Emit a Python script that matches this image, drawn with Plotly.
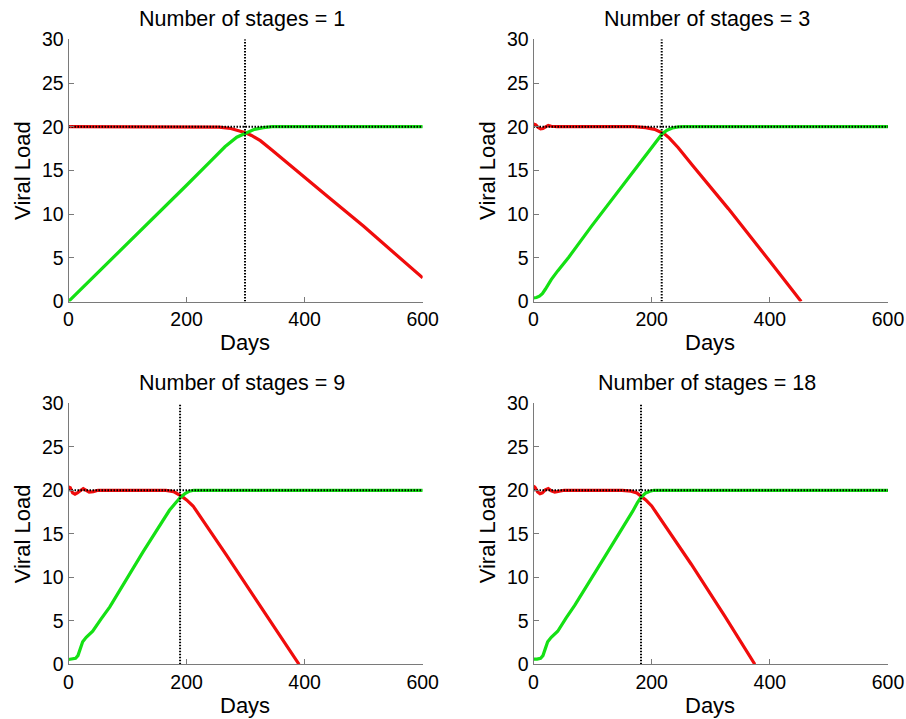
import plotly.graph_objects as go

W, H = 906, 719

# ---------------- data ----------------
titles = ["Number of stages = 1", "Number of stages = 3",
          "Number of stages = 9", "Number of stages = 18"]
cross_days = [299, 217, 189, 182]
plateau = 20
x_ticks = [0, 200, 400, 600]
y_ticks = [0, 5, 10, 15, 20, 25, 30]

green1_x = [0, 50, 100, 150, 200, 240, 265, 285, 300, 315, 330, 345, 360, 600]
green1_y = [0, 3.3, 6.6, 10.0, 13.3, 16.0, 17.7, 18.8, 19.3, 19.7, 19.9, 20.0, 20.0, 20.0]
red1_x = [0, 230, 255, 275, 290, 300, 310, 325, 345, 380, 440, 500, 560, 600]
red1_y = [20, 20, 19.95, 19.8, 19.55, 19.3, 19.0, 18.4, 17.3, 15.3, 11.95, 8.6, 5.1, 2.7]

green2_x = [0, 5, 10, 15, 20, 25, 30, 41, 60, 98, 154, 199, 210, 218, 226, 235, 245, 255, 600]
green2_y = [0.4, 0.45, 0.6, 0.9, 1.4, 2.0, 2.5, 3.5, 5.1, 8.6, 13.6, 17.6, 18.5, 19.2, 19.6, 19.85, 19.97, 20, 20]
red2_x = [0, 4, 8, 12, 16, 20, 25, 30, 40, 170, 190, 205, 215, 222, 230, 245, 270, 330, 400, 453]
red2_y = [20.3, 20.2, 19.9, 19.75, 19.8, 20.0, 20.15, 20.05, 20.0, 20.0, 19.9, 19.7, 19.4, 19.15, 18.7, 17.6, 15.5, 10.6, 4.6, 0]

green3_x = [0, 6, 12, 16, 20, 24, 30, 41, 55, 70, 126, 171, 182, 190, 198, 205, 212, 600]
green3_y = [0.55, 0.6, 0.7, 1.0, 1.8, 2.6, 3.1, 3.8, 5.2, 6.6, 12.9, 17.7, 18.6, 19.2, 19.65, 19.9, 20, 20]
red3_x = [0, 3, 7, 11, 15, 20, 25, 30, 35, 42, 50, 60, 165, 178, 186, 192, 200, 211, 267, 324, 390.5]
red3_y = [20.4, 20.3, 19.7, 19.55, 19.7, 20.0, 20.2, 20.0, 19.8, 19.85, 20.0, 20.0, 20.0, 19.85, 19.55, 19.3, 18.9, 18.2, 12.6, 6.8, 0]

green4_x = [0, 6, 12, 16, 20, 24, 30, 41, 55, 70, 120, 154, 168, 176, 182, 190, 197, 204, 600]
green4_y = [0.6, 0.6, 0.7, 1.0, 1.8, 2.6, 3.1, 3.8, 5.3, 6.8, 12.3, 16.0, 17.6, 18.6, 19.2, 19.7, 19.9, 20, 20]
red4_x = [0, 3, 7, 11, 15, 20, 25, 30, 36, 44, 52, 150, 165, 175, 182, 190, 200, 267, 324, 374.6]
red4_y = [20.5, 20.3, 19.8, 19.6, 19.7, 20.05, 20.2, 19.95, 19.8, 19.9, 20.0, 20.0, 19.9, 19.7, 19.3, 18.9, 18.2, 11.5, 5.5, 0]

greens = [(green1_x, green1_y), (green2_x, green2_y), (green3_x, green3_y), (green4_x, green4_y)]
reds = [(red1_x, red1_y), (red2_x, red2_y), (red3_x, red3_y), (red4_x, red4_y)]

# ---------------- layout geometry (pixels) ----------------
col_x = [(68.5, 422.7), (533.5, 888.0)]
row_y = [(39.3, 301.5), (403.3, 664.3)]

RED = "#f00c0c"
GREEN = "#14e014"
AXC = "#7a7a7a"
FONT = "Arial, Liberation Sans, sans-serif"
TICK_SIZE = 19.5


def fx(p):
    return p / W


def fy(p):
    return 1 - p / H


fig = go.Figure()
layout = dict(width=W, height=H, margin=dict(l=0, r=0, t=0, b=0),
              paper_bgcolor="white", plot_bgcolor="white", showlegend=False,
              font=dict(family=FONT, color="black"))
annotations = []

for i in range(4):
    r, c = divmod(i, 2)
    (x0, x1), (y0, y1) = col_x[c], row_y[r]
    sfx = "" if i == 0 else str(i + 1)
    xa, ya = "x" + sfx, "y" + sfx
    layout["xaxis" + sfx] = dict(domain=[fx(x0), fx(x1)], anchor=ya, range=[0, 600],
                                 tickvals=x_ticks, ticks="inside", ticklen=5, tickcolor=AXC,
                                 showline=True, linecolor=AXC, linewidth=1, showgrid=False,
                                 zeroline=False, tickfont=dict(size=TICK_SIZE, family=FONT, color="black"),
                                 automargin=False)
    layout["yaxis" + sfx] = dict(domain=[fy(y1), fy(y0)], anchor=xa, range=[0, 30],
                                 tickvals=y_ticks, ticks="inside", ticklen=5, tickcolor=AXC,
                                 showline=True, linecolor=AXC, linewidth=1, showgrid=False,
                                 zeroline=False, tickfont=dict(size=TICK_SIZE, family=FONT, color="black"),
                                 automargin=False)
    gx, gy = greens[i]
    rx, ry = reds[i]
    fig.add_trace(go.Scatter(x=rx, y=ry, mode="lines", line=dict(color=RED, width=3.2),
                             xaxis=xa, yaxis=ya, hoverinfo="skip"))
    fig.add_trace(go.Scatter(x=gx, y=gy, mode="lines", line=dict(color=GREEN, width=3.2),
                             xaxis=xa, yaxis=ya, hoverinfo="skip"))
    fig.add_trace(go.Scatter(x=[x_ticks[0], x_ticks[-1]], y=[plateau, plateau], mode="lines",
                             line=dict(color="black", width=2, dash="1.5px,1.5px"),
                             xaxis=xa, yaxis=ya, hoverinfo="skip"))
    fig.add_trace(go.Scatter(x=[cross_days[i], cross_days[i]], y=[y_ticks[0], y_ticks[-1]], mode="lines",
                             line=dict(color="black", width=2, dash="1.5px,1.5px"),
                             xaxis=xa, yaxis=ya, hoverinfo="skip"))
    xc = (x0 + x1) / 2
    annotations.append(dict(text=titles[i], x=fx(xc - 4), y=fy(y0 - 20), xref="paper", yref="paper",
                            xanchor="center", yanchor="middle", showarrow=False,
                            font=dict(size=21.5, family=FONT, color="black")))
    annotations.append(dict(text="Days", x=fx(xc - 1), y=fy(y1 + 41), xref="paper", yref="paper",
                            xanchor="center", yanchor="middle", showarrow=False,
                            font=dict(size=22, family=FONT, color="black")))
    annotations.append(dict(text="Viral Load", x=fx(x0 - 46), y=fy((y0 + y1) / 2), xref="paper",
                            yref="paper", xanchor="center", yanchor="middle", textangle=-90,
                            showarrow=False, font=dict(size=22, family=FONT, color="black")))

layout["annotations"] = annotations
fig.update_layout(**layout)
fig.write_html("out.html")
